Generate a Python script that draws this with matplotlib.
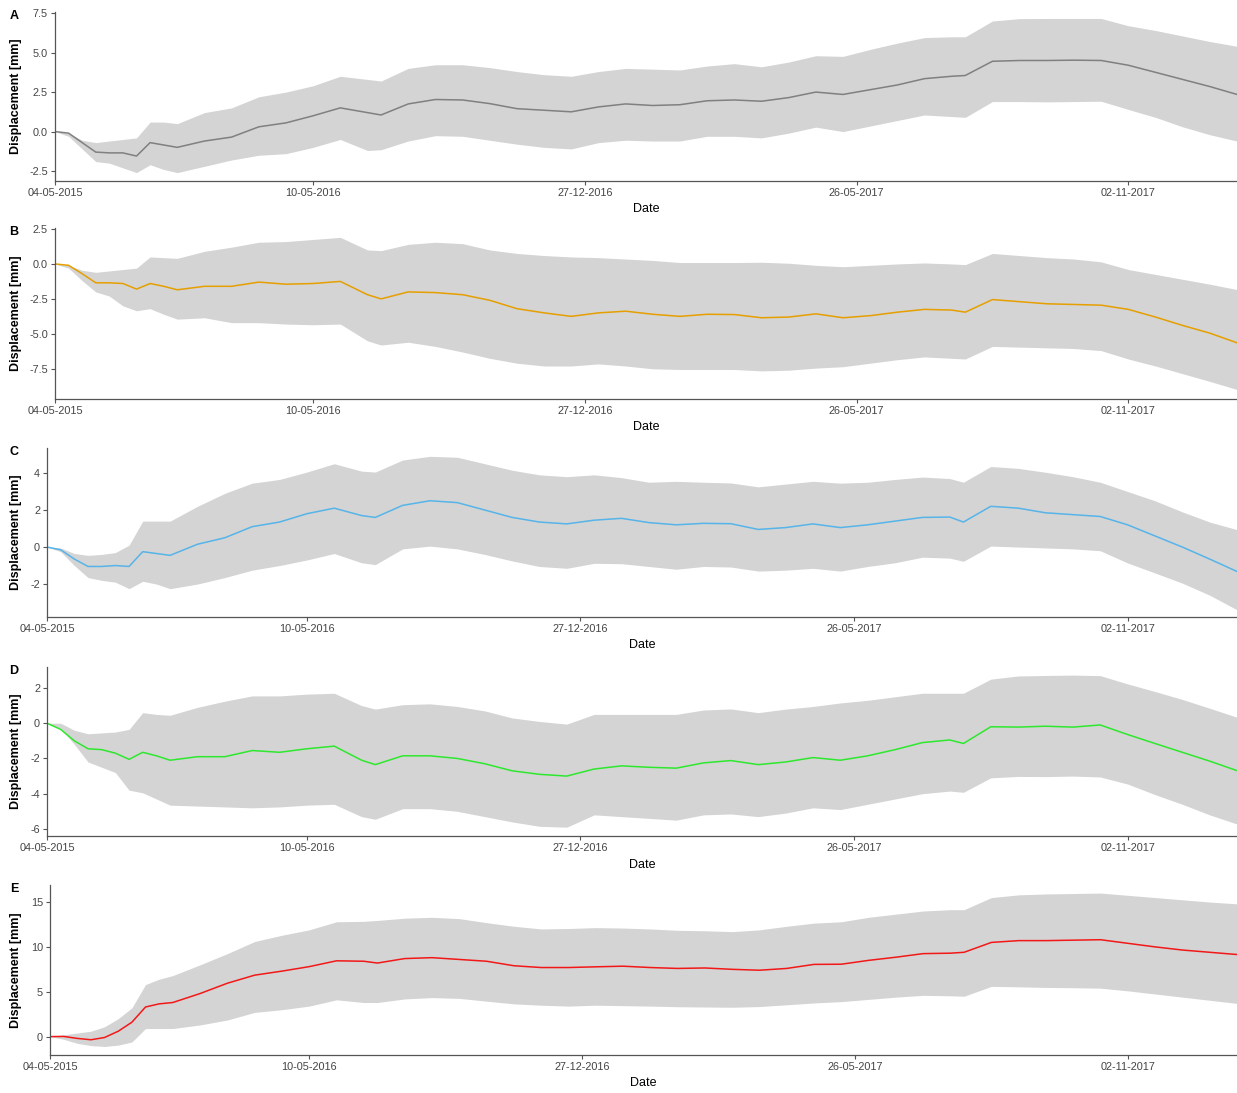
import numpy as np
import matplotlib
matplotlib.use('Agg')
import matplotlib.pyplot as plt

plt.rcParams['font.family'] = ['Liberation Sans', 'DejaVu Sans']

# acquisition index (x axis is categorical: one step per SAR acquisition)
acq = [0, 1, 2, 3, 4, 5, 6, 7, 8, 9, 11, 13, 15, 17, 19, 21, 23, 24, 26, 28,
       30, 32, 34, 36, 38, 40, 42, 44, 46, 48, 50, 52, 54, 56, 58, 60, 62, 64, 66, 67,
       69, 71, 73, 75, 77, 79, 81, 83, 85, 87]
tick_idx = [0, 19, 39, 59, 79]
tick_dates = ['04-05-2015', '10-05-2016', '27-12-2016', '26-05-2017', '02-11-2017']

# A
mean_a = [0, -0.1, -0.7, -1.3, -1.35, -1.35, -1.55, -0.7, -0.85, -1.0, -0.6, -0.35, 0.3, 0.55, 1.0, 1.5, 1.2, 1.05, 1.75, 2.03,
          2.0, 1.77, 1.45, 1.35, 1.25, 1.56, 1.75, 1.65, 1.7, 1.95, 2.0, 1.92, 2.15, 2.5, 2.35, 2.65, 2.95, 3.35, 3.5, 3.55,
          4.45, 4.5, 4.5, 4.52, 4.5, 4.2, 3.75, 3.3, 2.85, 2.35]
upper_a = [0, -0.1, -0.55, -0.7, -0.6, -0.5, -0.4, 0.6, 0.6, 0.5, 1.2, 1.5, 2.2, 2.5, 2.9, 3.5, 3.3, 3.2, 4.0, 4.23,
           4.23, 4.05, 3.8, 3.6, 3.5, 3.8, 4.0, 3.95, 3.9, 4.15, 4.3, 4.1, 4.4, 4.8, 4.76, 5.2, 5.6, 5.95, 6.0, 6.0,
           7.0, 7.15, 7.16, 7.16, 7.16, 6.7, 6.4, 6.05, 5.7, 5.4]
lower_a = [0, -0.3, -1.1, -1.9, -2.0, -2.3, -2.6, -2.1, -2.4, -2.6, -2.2, -1.8, -1.5, -1.4, -1.0, -0.5, -1.2, -1.15, -0.6, -0.26,
           -0.3, -0.55, -0.8, -1.0, -1.1, -0.7, -0.55, -0.6, -0.6, -0.3, -0.3, -0.4, -0.1, 0.28, 0.0, 0.35, 0.7, 1.05, 0.95, 0.9,
           1.9, 1.9, 1.88, 1.9, 1.92, 1.4, 0.9, 0.3, -0.2, -0.6]

# B
mean_b = [0, -0.1, -0.7, -1.35, -1.35, -1.4, -1.8, -1.4, -1.6, -1.85, -1.6, -1.6, -1.3, -1.45, -1.4, -1.25, -2.2, -2.5, -2.0, -2.05,
          -2.2, -2.6, -3.2, -3.5, -3.75, -3.5, -3.38, -3.6, -3.75, -3.6, -3.62, -3.85, -3.8, -3.57, -3.85, -3.7, -3.45, -3.25, -3.3, -3.45,
          -2.55, -2.7, -2.85, -2.9, -2.95, -3.25, -3.8, -4.4, -4.95, -5.64]
upper_b = [0, -0.1, -0.45, -0.6, -0.5, -0.4, -0.3, 0.5, 0.45, 0.4, 0.9, 1.2, 1.55, 1.6, 1.75, 1.9, 1.0, 0.95, 1.4, 1.55,
           1.45, 1.0, 0.75, 0.6, 0.5, 0.45, 0.35, 0.25, 0.1, 0.1, 0.1, 0.12, 0.05, -0.1, -0.2, -0.1, 0.0, 0.07, 0.0, -0.05,
           0.75, 0.6, 0.45, 0.35, 0.15, -0.4, -0.75, -1.1, -1.45, -1.83]
lower_b = [0, -0.3, -1.2, -2.0, -2.3, -3.0, -3.35, -3.2, -3.6, -3.95, -3.85, -4.2, -4.2, -4.3, -4.35, -4.3, -5.5, -5.8, -5.6, -5.9,
           -6.3, -6.75, -7.1, -7.3, -7.3, -7.15, -7.3, -7.5, -7.55, -7.55, -7.55, -7.65, -7.6, -7.45, -7.35, -7.1, -6.85, -6.65, -6.75, -6.8,
           -5.9, -5.95, -6.0, -6.05, -6.2, -6.8, -7.3, -7.85, -8.4, -8.98]

# C
mean_c = [0, -0.15, -0.65, -1.05, -1.05, -1.0, -1.05, -0.25, -0.35, -0.45, 0.15, 0.5, 1.1, 1.35, 1.8, 2.1, 1.7, 1.6, 2.25, 2.5,
          2.4, 2.0, 1.6, 1.35, 1.25, 1.45, 1.55, 1.32, 1.2, 1.28, 1.26, 0.95, 1.05, 1.25, 1.05, 1.2, 1.4, 1.6, 1.62, 1.35,
          2.2, 2.1, 1.85, 1.75, 1.65, 1.2, 0.6, 0.0, -0.65, -1.32]
upper_c = [0, -0.05, -0.35, -0.45, -0.4, -0.3, 0.1, 1.4, 1.4, 1.4, 2.2, 2.9, 3.45, 3.65, 4.05, 4.5, 4.1, 4.05, 4.7, 4.9,
           4.85, 4.5, 4.15, 3.9, 3.8, 3.9, 3.75, 3.5, 3.55, 3.5, 3.46, 3.25, 3.4, 3.55, 3.45, 3.5, 3.65, 3.78, 3.7, 3.5,
           4.35, 4.25, 4.04, 3.8, 3.5, 3.0, 2.5, 1.9, 1.35, 0.94]
lower_c = [0, -0.25, -1.0, -1.65, -1.8, -1.9, -2.25, -1.85, -2.0, -2.25, -2.0, -1.65, -1.25, -1.0, -0.7, -0.35, -0.85, -0.95, -0.1, 0.05,
           -0.1, -0.4, -0.75, -1.05, -1.15, -0.88, -0.9, -1.05, -1.2, -1.05, -1.08, -1.3, -1.25, -1.15, -1.3, -1.05, -0.85, -0.55, -0.6, -0.77,
           0.05, 0.0, -0.05, -0.1, -0.2, -0.86, -1.4, -1.95, -2.6, -3.39]

# D
mean_d = [0, -0.35, -1.0, -1.45, -1.5, -1.7, -2.05, -1.65, -1.85, -2.1, -1.9, -1.9, -1.55, -1.65, -1.45, -1.3, -2.1, -2.35, -1.85, -1.85,
          -2.0, -2.3, -2.7, -2.9, -3.0, -2.6, -2.42, -2.5, -2.55, -2.25, -2.12, -2.35, -2.2, -1.95, -2.1, -1.85, -1.5, -1.1, -0.95, -1.15,
          -0.2, -0.22, -0.17, -0.22, -0.1, -0.64, -1.15, -1.65, -2.15, -2.69]
upper_d = [0, 0, -0.4, -0.6, -0.55, -0.5, -0.35, 0.6, 0.5, 0.45, 0.9, 1.25, 1.55, 1.55, 1.65, 1.7, 1.0, 0.8, 1.05, 1.1,
           0.95, 0.7, 0.3, 0.1, -0.05, 0.5, 0.5, 0.5, 0.5, 0.75, 0.81, 0.6, 0.8, 0.95, 1.15, 1.3, 1.5, 1.7, 1.7, 1.7,
           2.5, 2.68, 2.71, 2.73, 2.7, 2.23, 1.8, 1.35, 0.85, 0.34]
lower_d = [0, -0.3, -1.2, -2.2, -2.5, -2.8, -3.8, -3.95, -4.3, -4.65, -4.7, -4.75, -4.8, -4.75, -4.65, -4.6, -5.3, -5.45, -4.85, -4.85,
           -5.0, -5.3, -5.6, -5.85, -5.9, -5.2, -5.3, -5.4, -5.5, -5.2, -5.15, -5.3, -5.1, -4.8, -4.9, -4.6, -4.3, -4.0, -3.85, -3.92,
           -3.1, -3.02, -3.03, -3.0, -3.05, -3.45, -4.05, -4.6, -5.2, -5.72]

# E
mean_e = [0, 0.02, -0.2, -0.35, -0.1, 0.6, 1.6, 3.3, 3.65, 3.8, 4.8, 5.95, 6.85, 7.3, 7.8, 8.45, 8.4, 8.2, 8.7, 8.8,
          8.6, 8.4, 7.9, 7.7, 7.7, 7.78, 7.85, 7.7, 7.6, 7.65, 7.5, 7.4, 7.6, 8.05, 8.07, 8.5, 8.85, 9.25, 9.3, 9.4,
          10.5, 10.7, 10.7, 10.75, 10.8, 10.4, 10.0, 9.65, 9.4, 9.15]
upper_e = [0, 0.2, 0.4, 0.6, 1.1, 2.0, 3.2, 5.8, 6.4, 6.8, 8.0, 9.25, 10.6, 11.3, 11.9, 12.8, 12.85, 12.95, 13.2, 13.3,
           13.15, 12.7, 12.3, 12.0, 12.05, 12.15, 12.1, 12.0, 11.85, 11.8, 11.7, 11.9, 12.3, 12.65, 12.8, 13.3, 13.65, 14.0, 14.15, 14.15,
           15.5, 15.8, 15.9, 15.95, 16.0, 15.75, 15.5, 15.25, 15.0, 14.8]
lower_e = [0, -0.3, -0.75, -1.0, -1.1, -0.95, -0.6, 0.9, 0.9, 0.9, 1.3, 1.85, 2.7, 3.0, 3.4, 4.1, 3.8, 3.8, 4.2, 4.35,
           4.26, 3.95, 3.65, 3.5, 3.4, 3.5, 3.45, 3.4, 3.33, 3.3, 3.27, 3.35, 3.55, 3.75, 3.9, 4.15, 4.4, 4.6, 4.55, 4.5,
           5.6, 5.55, 5.48, 5.45, 5.4, 5.1, 4.75, 4.4, 4.05, 3.7]

panels = [
    ('A', mean_a, upper_a, lower_a, '#808080', (-3.13, 7.57), [-2.5, 0, 2.5, 5, 7.5], '{:.1f}', (55, 12, 181)),
    ('B', mean_b, upper_b, lower_b, '#E69F00', (-9.66, 2.57), [-7.5, -5, -2.5, 0, 2.5], '{:.1f}', (55, 228, 399)),
    ('C', mean_c, upper_c, lower_c, '#56B4E9', (-3.78, 5.35), [-2, 0, 2, 4], '{:.0f}', (47, 448, 617)),
    ('D', mean_d, upper_d, lower_d, '#2EE82E', (-6.4, 3.19), [-6, -4, -2, 0, 2], '{:.0f}', (47, 667, 836)),
    ('E', mean_e, upper_e, lower_e, '#F21818', (-2.05, 16.9), [0, 5, 10, 15], '{:.0f}', (50, 885, 1055)),
]

W, H = 1237, 1093
fig = plt.figure(figsize=(W / 100, H / 100), dpi=100)

for letter, mean, upper, lower, color, ylim, yticks, fmt, (left, top, bottom) in panels:
    ax = fig.add_axes([left / W, 1 - bottom / H, (W - left) / W, (bottom - top) / H])
    ax.fill_between(acq, lower, upper, color='#d4d4d4', linewidth=0)
    ax.plot(acq, mean, color=color, linewidth=1.1)
    ax.set_xlim(0, 87)
    ax.set_ylim(*ylim)
    ax.set_xticks(tick_idx)
    ax.set_xticklabels(tick_dates)
    ax.set_yticks(yticks)
    ax.set_yticklabels([fmt.format(v) for v in yticks])
    for s in ['top', 'right']:
        ax.spines[s].set_visible(False)
    for s in ['left', 'bottom']:
        ax.spines[s].set_color('#555555')
        ax.spines[s].set_linewidth(0.9)
    ax.tick_params(axis='both', direction='out', length=3, width=0.8, color='#555555',
                   labelsize=7.8, labelcolor='#444444', pad=2)
    ax.set_xlabel('Date', fontsize=9, labelpad=4)
    ax.set_ylabel('Displacement [mm]', fontsize=9, fontweight='bold')
    ax.yaxis.set_label_coords((22 - left) / (W - left), 0.5)
    fig.text(14 / W, 1 - (top + 4) / H, letter, fontsize=9, fontweight='bold', ha='center', va='center')

fig.savefig('out.png', dpi=100)
